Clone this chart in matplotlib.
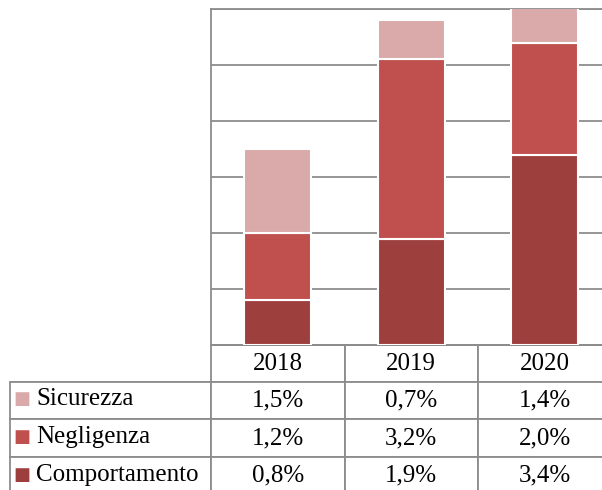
import matplotlib.pyplot as plt
import numpy as np

# Data
years = ['2018', '2019', '2020']
labels = ['Sicurezza', 'Negligenza', 'Comportamento']
sicurezza = [1.5, 0.7, 1.4]
negligenza = [1.2, 3.2, 2.0]
comportamento = [0.8, 1.9, 3.4]
colors = ['#D9AAA9', '#C0504E', '#9D3F3D']

plt.rcParams['font.family'] = ['Liberation Serif', 'DejaVu Serif']

fig = plt.figure(figsize=(6.02, 4.90), dpi=100)
ax = fig.add_axes([211 / 602, 1 - 345 / 490, 400.5 / 602, 336 / 490])

x = np.arange(len(years))
ax.bar(x, comportamento, width=0.5, color=colors[2], edgecolor='white', linewidth=1.5, zorder=3)
ax.bar(x, negligenza, width=0.5, bottom=comportamento, color=colors[1],
       edgecolor='white', linewidth=1.5, zorder=3)
bottom2 = [a + b for a, b in zip(comportamento, negligenza)]
ax.bar(x, sicurezza, width=0.5, bottom=bottom2, color=colors[0],
       edgecolor='white', linewidth=1.5, zorder=3)

ax.set_xlim(-0.5, 2.5)
ax.set_ylim(0, 6)
ax.set_yticks(np.arange(0, 7, 1))
ax.yaxis.grid(True, color='#8c8c8c', linewidth=1.3, zorder=0)
ax.set_xticks([])
ax.tick_params(axis='y', length=0, labelleft=False)
for s in ['top', 'left', 'bottom']:
    ax.spines[s].set_color('#8c8c8c')
    ax.spines[s].set_linewidth(1.3)
ax.spines['right'].set_visible(False)

# Data table below the bars
rows = [[''] + years]
for vals in [sicurezza, negligenza, comportamento]:
    rows.append([''] + [('%.1f%%' % v).replace('.', ',') for v in vals])

tab = ax.table(cellText=rows, cellLoc='center',
               colWidths=[201, 133.5, 133.5, 133.5],
               bbox=[-201 / 400.5, -149 / 336, 601.5 / 400.5, 149 / 336])
tab.auto_set_font_size(False)
tab.set_fontsize(18)
for (r, c), cell in tab.get_celld().items():
    cell.set_edgecolor('#8c8c8c')
    cell.set_linewidth(1.3)
    if r == 0 and c == 0:
        cell.visible_edges = 'B'

# row labels with legend squares
for i, (lab, col) in enumerate(zip(labels, colors)):
    yc = -(35 + 38 * i + 19) / 336
    ax.text((22 - 211) / 400.5, yc, '■', color=col, fontsize=13,
            ha='center', va='center', transform=ax.transAxes, clip_on=False,
            family='DejaVu Sans')
    ax.text((36 - 211) / 400.5, yc, lab, fontsize=18, ha='left', va='center',
            transform=ax.transAxes, clip_on=False)

fig.savefig('out.png', dpi=100)
